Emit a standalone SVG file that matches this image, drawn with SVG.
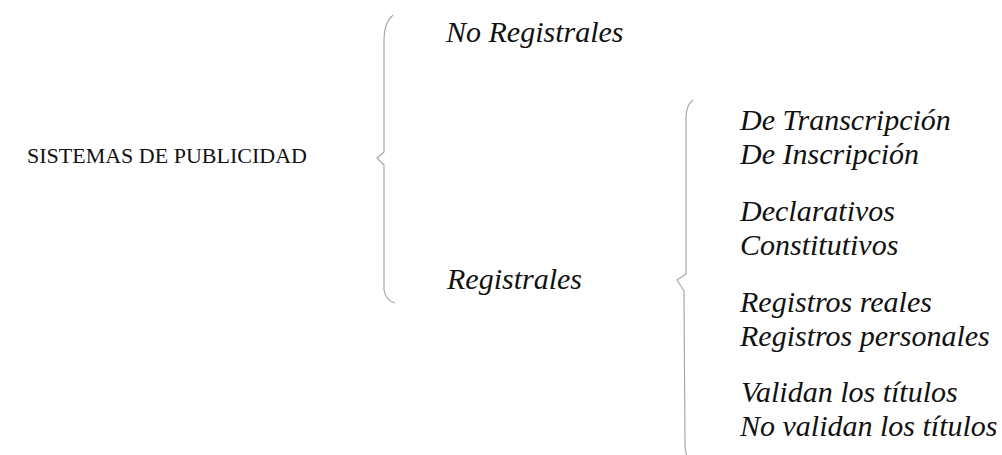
<svg xmlns="http://www.w3.org/2000/svg" width="1002" height="455" viewBox="0 0 1002 455">
<style>
.t{font-family:"Liberation Serif","Times New Roman",serif;fill:#111}
.i{font-style:italic;font-size:30px}
.r{font-size:22px}
.b{fill:none;stroke:#a8a8a8;stroke-width:1.2;stroke-linejoin:round}
</style>
<rect width="1002" height="455" fill="#fff"/>
<g id="connectors">
<path class="b" d="M393,15 C387,20 384,28 384,40 L384,152 L377,158 L384,165 L384,290 C385,296 388,301 395,303"/>
<path class="b" d="M693,100 C688,104 686,110 686,118 L686,274 L677,280 L684,291 L685,447 C686,453 687,458 688,462"/>
</g>
<g id="root"><text class="t r" x="27" y="163">SISTEMAS DE PUBLICIDAD</text></g>
<g id="no-registrales"><text class="t i" x="446" y="42">No Registrales</text></g>
<g id="registrales"><text class="t i" x="447" y="289">Registrales</text></g>
<g id="transcripcion"><text class="t i" x="740" y="130">De Transcripción</text></g>
<g id="inscripcion"><text class="t i" x="740" y="164">De Inscripción</text></g>
<g id="declarativos"><text class="t i" x="740" y="221">Declarativos</text></g>
<g id="constitutivos"><text class="t i" x="740" y="255">Constitutivos</text></g>
<g id="reales"><text class="t i" x="740" y="312">Registros reales</text></g>
<g id="personales"><text class="t i" x="740" y="346">Registros personales</text></g>
<g id="validan"><text class="t i" x="741" y="402">Validan los títulos</text></g>
<g id="no-validan"><text class="t i" x="740" y="436">No validan los títulos</text></g>
</svg>
